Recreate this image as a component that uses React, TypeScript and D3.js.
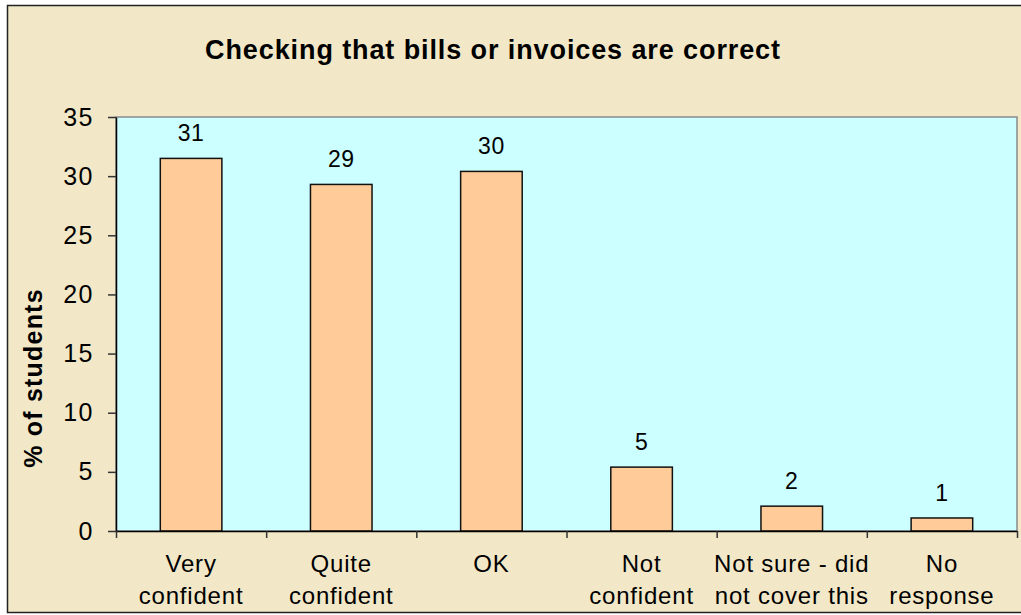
import React, { useEffect, useRef } from "react";
import * as d3 from "d3";

const categories = [
  ["Very", "confident"],
  ["Quite", "confident"],
  ["OK"],
  ["Not", "confident"],
  ["Not sure - did", "not cover this"],
  ["No", "response"],
];
const values = [31.5, 29.3, 30.4, 5.4, 2.1, 1.1];
const valueLabels = ["31", "29", "30", "5", "2", "1"];
const yTicks = [0, 5, 10, 15, 20, 25, 30, 35];

const W = 1021;
const H = 615;
const FONT = "'Liberation Sans', Arial, sans-serif";

const App = () => {
  const ref = useRef<SVGSVGElement>(null);

  useEffect(() => {
    const svg = d3.select(ref.current);
    svg.selectAll("*").remove();

    const plot = { left: 116, right: 1017, top: 117, bottom: 531 };

    // chart area
    svg
      .append("rect")
      .attr("x", 7.5)
      .attr("y", 5.5)
      .attr("width", W)
      .attr("height", 607)
      .attr("fill", "#f2e8c8")
      .attr("stroke", "#222")
      .attr("stroke-width", 1.5);

    svg
      .append("rect")
      .attr("x", plot.left)
      .attr("y", plot.top)
      .attr("width", plot.right - plot.left)
      .attr("height", plot.bottom - plot.top)
      .attr("fill", "#ccffff")
      .attr("stroke", "#8a8a8a")
      .attr("stroke-width", 1.5);

    const idx = categories.map((_, i) => String(i));
    const x = d3
      .scaleBand()
      .domain(idx)
      .range([plot.left, plot.right])
      .paddingInner(0.59)
      .paddingOuter(0.295);

    const y = d3.scaleLinear().domain([0, 35]).range([plot.bottom, plot.top]);

    svg
      .append("g")
      .selectAll("rect")
      .data(values)
      .join("rect")
      .attr("x", (_, i) => x(String(i))!)
      .attr("y", (d) => y(d))
      .attr("width", x.bandwidth())
      .attr("height", (d) => y(0) - y(d))
      .attr("fill", "#ffcc99")
      .attr("stroke", "#111")
      .attr("stroke-width", 1.5);

    svg
      .append("g")
      .selectAll("text")
      .data(values)
      .join("text")
      .attr("x", (_, i) => x(String(i))! + x.bandwidth() / 2)
      .attr("y", (d) => Math.max(y(d) - 17, plot.top + 18))
      .attr("text-anchor", "middle")
      .attr("font-family", FONT)
      .attr("font-size", 23)
      .attr("letter-spacing", 0.5)
      .text((_, i) => valueLabels[i]);

    // y axis
    const yAxis = svg
      .append("g")
      .attr("transform", `translate(${plot.left},0)`)
      .call(
        d3
          .axisLeft(y)
          .tickValues(yTicks)
          .tickSize(8)
          .tickPadding(14)
          .tickSizeOuter(0)
      );
    yAxis.select(".domain").attr("stroke", "#000").attr("stroke-width", 1.5);
    yAxis.selectAll(".tick line").attr("stroke", "#333").attr("stroke-width", 1.5);
    yAxis
      .selectAll(".tick text")
      .attr("font-family", FONT)
      .attr("font-size", 25)
      .attr("letter-spacing", 1.5)
      .attr("fill", "#000");

    // x axis
    const xEdges = d3.scaleLinear().domain([0, categories.length]).range([plot.left, plot.right]);
    const xAxis = svg
      .append("g")
      .attr("transform", `translate(0,${plot.bottom})`)
      .call(
        d3
          .axisBottom(xEdges)
          .tickValues(d3.range(categories.length + 1))
          .tickSize(7)
          .tickSizeOuter(0)
          .tickFormat(() => "")
      );
    xAxis.select(".domain").attr("stroke", "#000").attr("stroke-width", 1.5);
    xAxis.selectAll(".tick line").attr("stroke", "#333").attr("stroke-width", 1.5);

    svg
      .append("g")
      .selectAll("text")
      .data(categories)
      .join("text")
      .attr("x", (_, i) => x(String(i))! + x.bandwidth() / 2)
      .attr("y", 572)
      .attr("text-anchor", "middle")
      .attr("font-family", FONT)
      .attr("font-size", 24)
      .attr("letter-spacing", 0.8)
      .selectAll("tspan")
      .data((d) => d)
      .join("tspan")
      .attr("x", function () {
        return (this.parentNode as SVGTextElement).getAttribute("x");
      })
      .attr("dy", (_, j) => (j === 0 ? 0 : 32))
      .text((d) => d);

    svg
      .append("text")
      .attr("x", 493)
      .attr("y", 59)
      .attr("text-anchor", "middle")
      .attr("font-family", FONT)
      .attr("font-weight", "bold")
      .attr("font-size", 27)
      .attr("letter-spacing", 0.9)
      .text("Checking that bills or invoices are correct");

    svg
      .append("text")
      .attr("transform", `translate(42,378) rotate(-90)`)
      .attr("text-anchor", "middle")
      .attr("font-family", FONT)
      .attr("font-weight", "bold")
      .attr("font-size", 25)
      .attr("letter-spacing", 1.2)
      .text("% of students");
  }, []);

  return (
    <svg
      ref={ref}
      width={W}
      height={H}
      style={{ position: "absolute", left: 0, top: 0 }}
    ></svg>
  );
};

export default App;
